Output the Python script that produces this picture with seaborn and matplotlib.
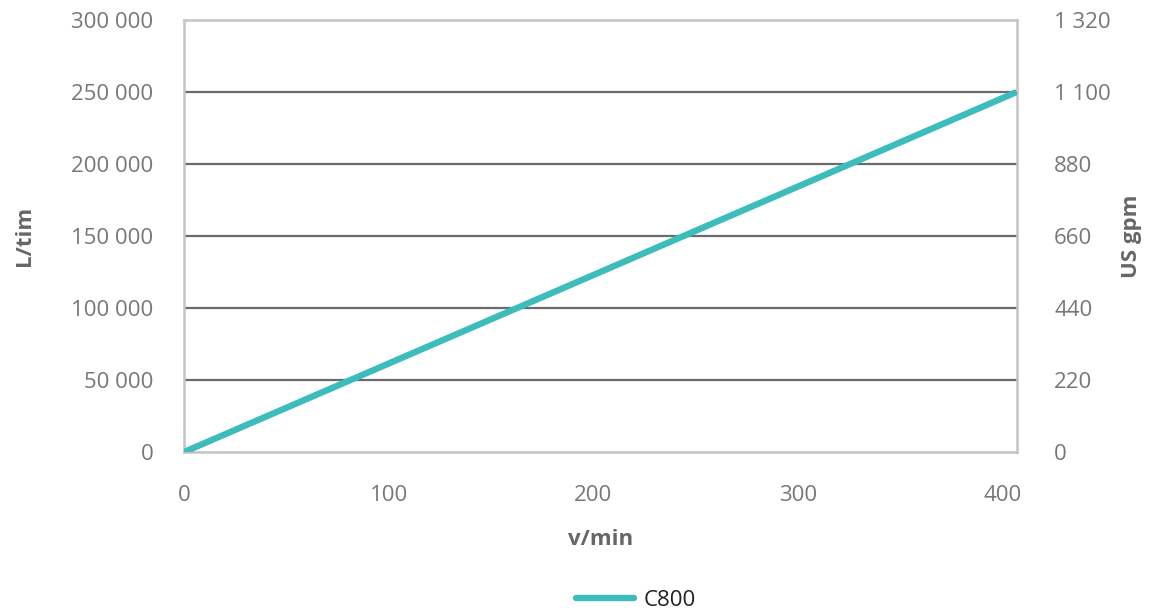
import pandas as pd
import seaborn as sns
import matplotlib.pyplot as plt
from matplotlib.ticker import FuncFormatter

# Data
speed = [0, 407]            # v/min
flow_lh = [0, 250000]       # L/tim
series = ["C800", "C800"]

left_ticks = [0, 50000, 100000, 150000, 200000, 250000, 300000]
right_ticks = [0, 220, 440, 660, 880, 1100, 1320]
x_ticks = [0, 100, 200, 300, 400]

df = pd.DataFrame({"v/min": speed, "L/tim": flow_lh, "serie": series})

# Setup
sns.set_theme(style="white")
plt.rcParams["font.family"] = ["Open Sans", "DejaVu Sans"]

grey_txt = "#777777"
spine_col = "#c4c4c4"
grid_col = "#6b6b6b"
line_col = "#3dbcbc"


def space_fmt(v, pos):
    return f"{int(round(v)):,}".replace(",", " ")


fig = plt.figure(figsize=(11.5, 6.14), dpi=100)
ax = fig.add_axes([0.16, 0.2638, 0.724, 0.7036])

sns.lineplot(data=df, x="v/min", y="L/tim", hue="serie", palette=[line_col],
             linewidth=4.6, ax=ax, legend=False, zorder=5)
ax.lines[0].set_solid_capstyle("butt")

ax.set_xlim(0, 407)
ax.set_ylim(0, 300000)
ax.set_xticks(x_ticks)
ax.set_yticks(left_ticks)
ax.yaxis.set_major_formatter(FuncFormatter(space_fmt))
ax.tick_params(axis="both", length=0, labelsize=16, labelcolor=grey_txt)
ax.tick_params(axis="x", pad=24)
ax.tick_params(axis="y", pad=22)

for y in left_ticks[1:-1]:
    ax.axhline(y, color=grid_col, lw=1.6, zorder=1)

for sp in ax.spines.values():
    sp.set_color(spine_col)
    sp.set_linewidth(1.8)

ax.set_xlabel("v/min", fontsize=16, fontweight="bold", color="#666666", labelpad=16)
ax.set_ylabel("L/tim", fontsize=16, fontweight="bold", color="#666666", labelpad=26)

# Right axis (US gpm)
ax2 = ax.twinx()
ax2.set_ylim(0, 1320)
ax2.set_yticks(right_ticks)
ax2.yaxis.set_major_formatter(FuncFormatter(space_fmt))
ax2.tick_params(axis="y", length=0, labelsize=16, labelcolor=grey_txt, pad=27)
for sp in ax2.spines.values():
    sp.set_visible(False)
ax2.set_ylabel("US gpm", fontsize=16, fontweight="bold", color="#666666", labelpad=7)

# Legend
handle = plt.Line2D([], [], color=line_col, lw=4.6, solid_capstyle="round")
leg = fig.legend([handle], ["C800"], loc="lower center", bbox_to_anchor=(0.553, -0.028),
                 frameon=False, fontsize=16, handlelength=2.6, handletextpad=0.4)
for t in leg.get_texts():
    t.set_color("#222222")

plt.savefig("out.png", dpi=100)
plt.close()
